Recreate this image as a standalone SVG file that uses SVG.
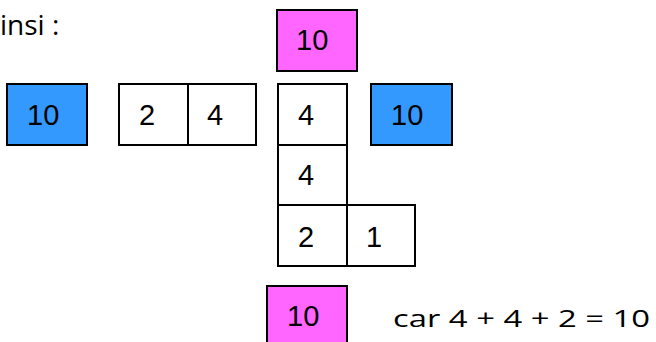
<svg xmlns="http://www.w3.org/2000/svg" width="656" height="342" viewBox="0 0 656 342">
  <style>
    .cell { fill: #ffffff; stroke: #000000; stroke-width: 2; }
    .blue { fill: #3399ff; stroke: #000000; stroke-width: 2; }
    .pink { fill: #ff66ff; stroke: #000000; stroke-width: 2; }
    .num { font-family: "Liberation Sans", Arial, sans-serif; font-size: 29px; fill: #000000; }
    .prose { font-family: "Open Sans", "Noto Sans", sans-serif; fill: #000000; }
  </style>
  <rect width="656" height="342" fill="#ffffff"/>

  <text class="prose" x="0" y="35" font-size="28">insi :</text>

  <!-- left blue block -->
  <g id="blue-left">
    <rect class="blue" x="7" y="84" width="80" height="61"/>
    <text class="num" x="27" y="125">10</text>
  </g>

  <!-- horizontal pair 2 | 4 -->
  <g id="pair-2-4">
    <rect class="cell" x="119" y="84" width="69" height="61"/>
    <rect class="cell" x="188" y="84" width="68" height="61"/>
    <text class="num" x="139" y="125">2</text>
    <text class="num" x="207" y="125">4</text>
  </g>

  <!-- top pink block -->
  <g id="pink-top">
    <rect class="pink" x="277" y="10" width="80" height="61"/>
    <text class="num" x="296" y="50">10</text>
  </g>

  <!-- L-shaped stack 4 / 4 / 2 1 -->
  <g id="stack">
    <rect class="cell" x="278" y="84" width="69" height="61"/>
    <rect class="cell" x="278" y="145" width="69" height="60"/>
    <rect class="cell" x="278" y="205" width="69" height="61"/>
    <rect class="cell" x="347" y="205" width="68" height="61"/>
    <text class="num" x="298" y="125">4</text>
    <text class="num" x="298" y="185">4</text>
    <text class="num" x="298" y="247">2</text>
    <text class="num" x="366" y="247">1</text>
  </g>

  <!-- right blue block -->
  <g id="blue-right">
    <rect class="blue" x="371" y="84" width="81" height="61"/>
    <text class="num" x="391" y="125">10</text>
  </g>

  <!-- bottom pink block -->
  <g id="pink-bottom">
    <rect class="pink" x="267" y="286" width="80" height="62"/>
    <text class="num" x="287" y="326">10</text>
  </g>

  <text class="prose" x="393" y="327" font-size="23" textLength="257" lengthAdjust="spacingAndGlyphs">car 4 + 4 + 2 = 10</text>

  <g id="connectors"></g>
</svg>
